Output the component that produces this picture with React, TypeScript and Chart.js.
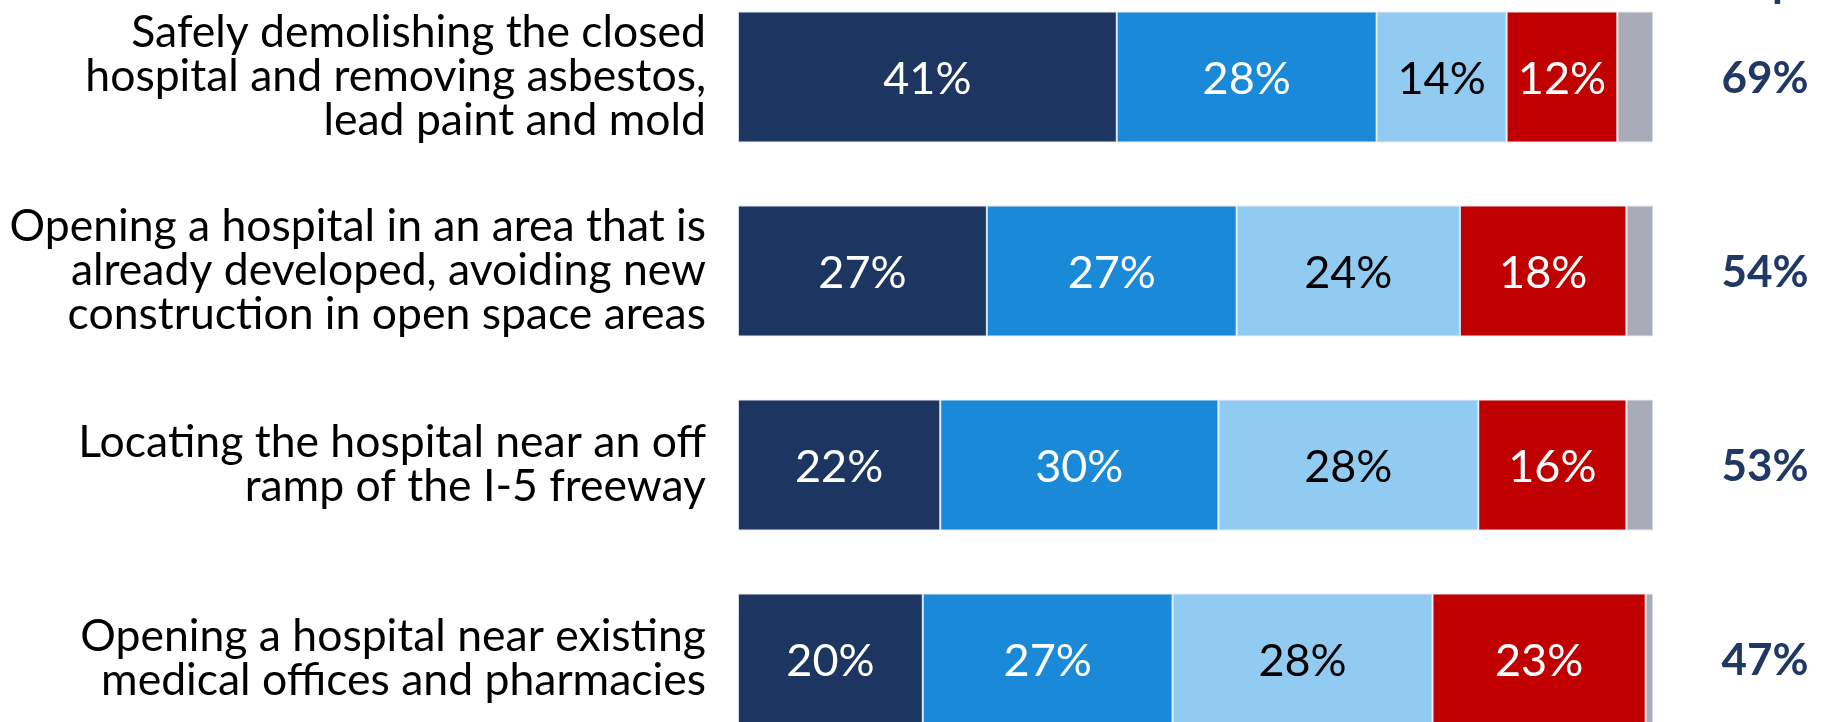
import React, { useEffect, useRef } from "react";
import { Chart, registerables } from "chart.js";

Chart.register(...registerables);

const categories: string[][] = [
  ["Safely demolishing the closed", "hospital and removing asbestos,", "lead paint and mold"],
  ["Opening a hospital in an area that is", "already developed, avoiding new", "construction in open space areas"],
  ["Locating the hospital near an off", "ramp of the I-5 freeway"],
  ["Opening a hospital near existing", "medical offices and pharmacies"],
];

const seriesNames = ["Extremely", "Very", "Somewhat", "Not important", "Don't know"];
const extremely = [41.4, 27.2, 22.1, 20.2];
const very = [28.4, 27.3, 30.4, 27.3];
const somewhat = [14.2, 24.4, 28.4, 28.4];
const notImportant = [12.1, 18.2, 16.2, 23.3];
const dontKnow = [3.9, 2.9, 2.9, 0.8];
const totals = [69, 54, 53, 47];
const headerLines = ["Total", "Imp."];

const colors = ["#1D3661", "#1A89D7", "#92CBF2", "#C00000", "#A9ABB8"];
const textColors = ["#FFFFFF", "#FFFFFF", "#000000", "#FFFFFF", null];

const FONT = "Lato, 'Open Sans', sans-serif";

const labelPlugin = {
  id: "segLabels",
  afterDatasetsDraw(chart: any) {
    const ctx = chart.ctx;
    ctx.save();
    ctx.textAlign = "center";
    ctx.textBaseline = "middle";
    chart.data.datasets.forEach((ds: any, di: number) => {
      const tc = textColors[di];
      if (!tc) return;
      const meta = chart.getDatasetMeta(di);
      meta.data.forEach((el: any, i: number) => {
        const p = el.getProps(["x", "y", "base"], true);
        const v = ds.data[i];
        ctx.fillStyle = tc;
        ctx.font = `400 45px ${FONT}`;
        ctx.fillText(`${Math.round(v)}%`, (p.x + p.base) / 2, p.y + 2);
      });
    });
    // totals column
    const meta0 = chart.getDatasetMeta(0);
    const cx = chart.chartArea.right + 112;
    ctx.fillStyle = "#1F3864";
    ctx.font = `700 44px ${FONT}`;
    meta0.data.forEach((el: any, i: number) => {
      ctx.fillText(`${totals[i]}%`, cx, el.y + 2);
    });
    // header (mostly above the visible area)
    ctx.textBaseline = "alphabetic";
    ctx.fillText(headerLines[1], cx, chart.chartArea.top + 17);
    ctx.fillText(headerLines[0], cx, chart.chartArea.top - 27);
    ctx.restore();
  },
};

export default function App() {
  const ref = useRef<HTMLCanvasElement | null>(null);
  useEffect(() => {
    if (!ref.current) return;
    const series = [extremely, very, somewhat, notImportant, dontKnow];
    const chart = new Chart(ref.current, {
      type: "bar",
      data: {
        labels: categories,
        datasets: series.map((d, i) => ({
          label: seriesNames[i],
          data: d,
          backgroundColor: colors[i],
          borderColor: "rgba(200,210,225,0.8)",
          borderWidth: 1,
          borderSkipped: false,
          categoryPercentage: 1,
          barPercentage: 0.676,
        })),
      },
      options: {
        indexAxis: "y",
        responsive: false,
        animation: false,
        layout: { padding: { left: 0, right: 172, top: 0, bottom: 0 } },
        plugins: { legend: { display: false }, tooltip: { enabled: false } },
        scales: {
          x: { stacked: true, min: 0, max: 100, display: false },
          y: {
            stacked: true,
            grid: { display: false },
            border: { display: false },
            afterFit(scale: any) {
              scale.width = 738;
              scale.paddingTop = 0;
              scale.paddingBottom = 0;
            },
            ticks: {
              color: "#000000",
              padding: 24,
              font: { family: FONT, size: 44.5, lineHeight: "44px" as any },
            },
          },
        },
      },
      plugins: [labelPlugin],
    });
    return () => chart.destroy();
  }, []);
  return (
    <div style={{ position: "fixed", left: 0, top: -20, width: 1825, height: 776, background: "#fff" }}>
      <canvas ref={ref} width={1825} height={776} style={{ display: "block" }} />
    </div>
  );
}
